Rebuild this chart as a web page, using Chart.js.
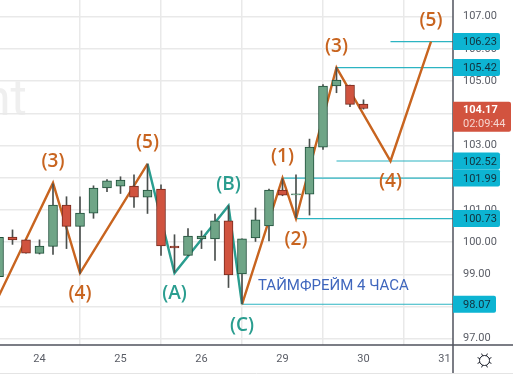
<!DOCTYPE html>
<html>
<head>
<meta charset="utf-8">
<style>
  html, body { margin: 0; padding: 0; background: #fff; }
  canvas { display: block; }
</style>
<script src="https://cdn.jsdelivr.net/npm/chart.js@4"></script>
</head>
<body>
<canvas id="chart" width="513" height="380"></canvas>
<script>
// candles, 4h each, x is the candle number
const opens  = [98.93,100.16,100.07,99.65,99.87,101.15,100.49,100.90,101.68,101.74,101.74,101.40,101.65,99.88,99.59,100.10,100.10,100.66,99.01,100.13,100.50,101.62,101.47,101.49,102.95,104.85,104.88,104.29];
const closes = [100.15,100.07,99.66,99.88,101.15,100.49,100.90,101.68,101.90,101.93,101.40,101.62,99.88,99.82,100.19,100.19,100.66,98.98,100.10,100.69,101.62,101.46,101.50,102.95,104.85,105.03,104.28,104.15];
const highs  = [100.15,100.38,100.07,100.07,101.81,101.41,101.41,101.75,101.94,102.03,102.09,102.43,101.78,100.23,100.42,100.35,100.87,101.13,100.10,101.06,101.65,101.97,102.09,103.20,104.89,105.43,104.88,104.42];
const lows   = [98.93,99.93,99.66,99.63,99.62,99.80,99.03,100.74,101.57,101.51,101.08,100.89,99.59,99.06,99.59,99.80,99.43,98.59,98.09,100.02,100.04,101.44,100.75,100.84,102.88,104.64,104.21,104.13];

// elliott wave legs
const waveOneX = [0,4,6,11];
const waveOneY = [98.34,101.84,99.04,102.43];
const waveTwoX = [11,13,17,18];
const waveTwoY = [102.43,99.04,101.13,98.07];
const waveThreeX = [18,21,22,25,29,32];
const waveThreeY = [98.07,101.99,100.73,105.42,102.52,106.23];

const waveLabels = ['(3)','(4)','(5)','(A)','(B)','(C)','(1)','(2)','(3)','(4)','(5)'];
const waveLabelX = [4,6,11,13,17,18,21,22,25,29,32];
const waveLabelY = [101.84,99.04,102.43,99.04,101.13,98.07,101.99,100.73,105.42,102.52,106.23];
const waveLabelUp = [true,false,true,false,true,false,true,false,true,false,true];
const waveLabelTeal = [false,false,false,true,true,true,false,false,false,false,false];

// levels with their price tags
const levelValues = [106.23,105.42,102.52,101.99,100.73,98.07];
const levelStart = [29,25,25,21,22,18];

const lastPrice = 104.17;
const lastPriceTimer = '02:09:44';

const yTicks = [97,98,99,100,101,102,103,104,105,106,107];
const dayTickX = [3,9,15,21,27,33];
const dayLabels = ['24','25','26','29','30','31'];

const xMin = 0.074, xMax = 33.63;
const yMin = 96.805, yMax = 107.52;

const ORANGE = '#c8641f';
const TEAL = '#2a9d8f';
const LEVEL = '#2cb4c2';
const TAG = '#0db4d2';
const GRID = '#e9e9e9';
const AXIS = '#50535e';
const FONT = 'Roboto, sans-serif';

const candleX = opens.map((v, i) => i);
const isUp = opens.map((v, i) => closes[i] >= opens[i]);

function pts(xs, ys) {
    return xs.map((x, i) => ({ x: x, y: ys[i] }));
}

function waveDataset(xs, ys, color) {
    return {
        type: 'line',
        data: pts(xs, ys),
        borderColor: color,
        borderWidth: 2.4,
        pointRadius: 0,
        tension: 0,
        order: 3
    };
}

function noPadding(axis) {
    axis.paddingTop = 0;
    axis.paddingBottom = 0;
    axis.paddingLeft = 0;
    axis.paddingRight = 0;
}

const levelSets = levelValues.map((v, i) => ({
    type: 'line',
    data: [{ x: levelStart[i], y: v }, { x: xMax, y: v }],
    borderColor: LEVEL,
    borderWidth: 1.2,
    pointRadius: 0,
    order: 4
}));

const overlay = {
    id: 'overlay',
    beforeDraw(chart) {
        const ctx = chart.ctx;
        ctx.save();
        // faint watermark
        ctx.fillStyle = '#efefef';
        ctx.font = '50px ' + FONT;
        ctx.textAlign = 'left';
        ctx.textBaseline = 'alphabetic';
        ctx.fillText('nt', -17, 115);
        ctx.restore();
    },
    afterDraw(chart) {
        const ctx = chart.ctx;
        const x = chart.scales.x;
        const y = chart.scales.y;
        const area = chart.chartArea;
        ctx.save();

        // wave labels
        ctx.font = '600 19px "Open Sans", sans-serif';
        ctx.textAlign = 'center';
        ctx.textBaseline = 'middle';
        waveLabels.forEach((t, i) => {
            ctx.fillStyle = waveLabelTeal[i] ? TEAL : ORANGE;
            const py = y.getPixelForValue(waveLabelY[i]) + (waveLabelUp[i] ? -21 : 21);
            ctx.fillText(t, x.getPixelForValue(waveLabelX[i]), py);
        });

        // caption
        ctx.fillStyle = '#3f66bd';
        ctx.font = '15px ' + FONT;
        ctx.textAlign = 'left';
        ctx.fillText('ТАЙМФРЕЙМ 4 ЧАСА', 258, 286);

        // price axis and time axis border lines
        ctx.strokeStyle = AXIS;
        ctx.lineWidth = 1.5;
        ctx.beginPath();
        ctx.moveTo(453, 0);
        ctx.lineTo(453, 373);
        ctx.moveTo(0, 345);
        ctx.lineTo(513, 345);
        ctx.stroke();
        ctx.strokeStyle = '#e4e4e4';
        ctx.lineWidth = 1;
        ctx.beginPath();
        ctx.moveTo(0, 373.5);
        ctx.lineTo(513, 373.5);
        ctx.stroke();

        // level tags
        ctx.font = '11px ' + FONT;
        ctx.textBaseline = 'middle';
        levelValues.forEach(v => {
            const py = y.getPixelForValue(v);
            const label = v.toFixed(2);
            const w = label.length > 5 ? 47 : 43;
            ctx.fillStyle = TAG;
            ctx.beginPath();
            ctx.roundRect(area.right, py - 8.5, w, 17, [0, 2, 2, 0]);
            ctx.fill();
            ctx.fillStyle = '#12313d';
            ctx.fillText(label, area.right + 10, py + 1);
        });

        // last price tag
        const lastY = y.getPixelForValue(lastPrice);
        ctx.fillStyle = '#d2533f';
        ctx.beginPath();
        ctx.roundRect(area.right, lastY - 6, 58, 30, [0, 2, 2, 0]);
        ctx.fill();
        ctx.fillStyle = '#fff';
        ctx.font = 'bold 11px ' + FONT;
        ctx.fillText(lastPrice.toFixed(2), area.right + 10, lastY + 2);
        ctx.fillStyle = '#f6d5cf';
        ctx.font = '11px ' + FONT;
        ctx.fillText(lastPriceTimer, area.right + 10, lastY + 16);

        // settings icon
        const cx = 484.5, cy = 360.5;
        ctx.strokeStyle = '#1e222d';
        ctx.lineWidth = 1;
        ctx.beginPath();
        ctx.arc(cx, cy, 5, 0, Math.PI * 2);
        for (let a = 0; a < 8; a++) {
            const ang = a * Math.PI / 4 + Math.PI / 8;
            ctx.moveTo(cx + Math.cos(ang) * 5, cy + Math.sin(ang) * 5);
            ctx.lineTo(cx + Math.cos(ang) * 7.5, cy + Math.sin(ang) * 7.5);
        }
        ctx.stroke();
        ctx.restore();
    }
};

new Chart(document.getElementById('chart').getContext('2d'), {
    data: {
        datasets: [
            {
                type: 'bar',
                data: candleX.map((x, i) => ({ x: x, y: [opens[i], closes[i]] })),
                backgroundColor: isUp.map(u => u ? '#6fa587' : '#d0533f'),
                borderColor: isUp.map(u => u ? '#1f4f3a' : '#752a1e'),
                borderWidth: 1,
                borderSkipped: false,
                barThickness: 9,
                grouped: false,
                order: 1
            },
            {
                type: 'bar',
                data: candleX.map((x, i) => ({ x: x, y: [lows[i], highs[i]] })),
                backgroundColor: '#4a4f4d',
                barThickness: 1,
                grouped: false,
                order: 2
            },
            waveDataset(waveOneX, waveOneY, ORANGE),
            waveDataset(waveTwoX, waveTwoY, TEAL),
            waveDataset(waveThreeX, waveThreeY, ORANGE),
            ...levelSets
        ]
    },
    options: {
        responsive: false,
        animation: false,
        layout: { padding: 0 },
        plugins: { legend: { display: false }, tooltip: { enabled: false } },
        scales: {
            x: {
                type: 'linear',
                min: xMin,
                max: xMax,
                offset: false,
                afterBuildTicks(axis) { axis.ticks = dayTickX.map(v => ({ value: v })); },
                afterFit(axis) { axis.height = 35; noPadding(axis); },
                grid: { color: GRID, lineWidth: 1.5, drawTicks: false },
                border: { display: false },
                ticks: {
                    padding: 8,
                    color: '#5a5d66',
                    maxRotation: 0,
                    autoSkip: false,
                    font: { family: FONT, size: 11 },
                    callback: v => dayLabels[dayTickX.indexOf(v)]
                }
            },
            y: {
                position: 'right',
                min: yMin,
                max: yMax,
                afterBuildTicks(axis) { axis.ticks = yTicks.map(v => ({ value: v })); },
                afterFit(axis) { axis.width = 60; noPadding(axis); },
                grid: { color: GRID, lineWidth: 1.5, drawTicks: false },
                border: { display: false },
                ticks: {
                    padding: 10,
                    crossAlign: 'near',
                    color: '#5a5d66',
                    font: { family: FONT, size: 11 },
                    callback: v => v.toFixed(2)
                }
            }
        }
    },
    plugins: [overlay]
});
</script>
</body>
</html>
